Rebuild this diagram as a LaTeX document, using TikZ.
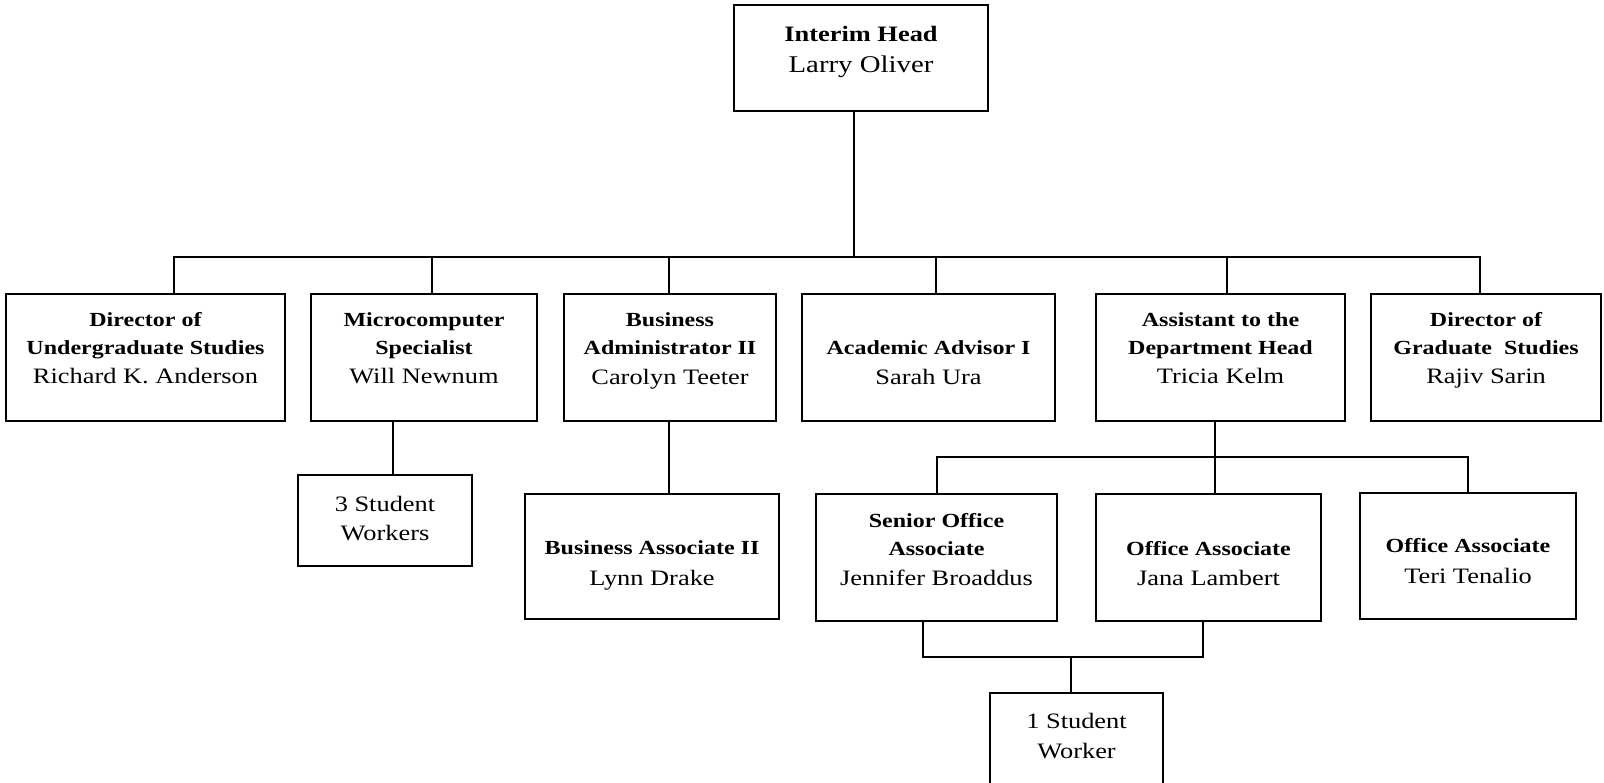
\documentclass[tikz,border=0pt]{standalone}
\usepackage{fontspec}
\setmainfont{Liberation Serif}[FakeStretch=1.2]
\begin{document}
\begin{tikzpicture}[x=1pt,y=-1pt,
  box/.style={draw, line width=2.2pt, inner sep=0pt},
  conn/.style={line width=2pt},
  nm/.style={anchor=base, inner sep=0pt, font=\fontsize{22}{28}\selectfont},
  tt/.style={anchor=base, inner sep=0pt, font=\fontsize{20}{28}\selectfont\bfseries},
  nmbig/.style={anchor=base, inner sep=0pt, font=\fontsize{24}{30}\selectfont},
  ttbig/.style={anchor=base, inner sep=0pt, font=\fontsize{22}{30}\selectfont\bfseries}]
\useasboundingbox (0,0) rectangle (1604,783);
\clip (0,0) rectangle (1604,783);

% boxes
\node[box, minimum width=254pt, minimum height=106pt] (top) at (861,58) {};
\node[box, minimum width=279pt, minimum height=127pt] (b1) at (145.5,357.5) {};
\node[box, minimum width=226pt, minimum height=127pt] (b2) at (424,357.5) {};
\node[box, minimum width=212pt, minimum height=127pt] (b3) at (670,357.5) {};
\node[box, minimum width=253pt, minimum height=127pt] (b4) at (928.5,357.5) {};
\node[box, minimum width=249pt, minimum height=127pt] (b5) at (1220.5,357.5) {};
\node[box, minimum width=230pt, minimum height=127pt] (b6) at (1486,357.5) {};
\node[box, minimum width=174pt, minimum height=91pt] (sw3) at (385,520.5) {};
\node[box, minimum width=254pt, minimum height=125pt] (ba) at (652,556.5) {};
\node[box, minimum width=241pt, minimum height=127pt] (so) at (936.5,557.5) {};
\node[box, minimum width=225pt, minimum height=127pt] (ja) at (1208.5,557.5) {};
\node[box, minimum width=216pt, minimum height=126pt] (te) at (1468,556) {};
\node[box, minimum width=173pt, minimum height=107pt] (sw1) at (1076.5,746.5) {};

% texts
\node[ttbig] (tA) at (861,42) {Interim Head};
\node[nmbig] (tB) at (861,73) {Larry Oliver};

\node[tt] (b1a) at (145.5,327) {Director of};
\node[tt] (b1b) at (145.5,355) {Undergraduate Studies};
\node[nm] (b1c) at (145.5,384) {Richard K. Anderson};

\node[tt] (b2a) at (424,327) {Microcomputer};
\node[tt] (b2b) at (424,355) {Specialist};
\node[nm] (b2c) at (424,384) {Will Newnum};

\node[tt] (b3a) at (670,327) {Business};
\node[tt] (b3b) at (670,355) {Administrator II};
\node[nm] (b3c) at (670,385) {Carolyn Teeter};

\node[tt] (b4a) at (928.5,355) {Academic Advisor I};
\node[nm] (b4b) at (928.5,385) {Sarah Ura};

\node[tt] (b5a) at (1220.5,327) {Assistant to the};
\node[tt] (b5b) at (1220.5,355) {Department Head};
\node[nm] (b5c) at (1220.5,384) {Tricia Kelm};

\node[tt] (b6a) at (1486,327) {Director of};
\node[tt] (b6b) at (1486,355) {Graduate\ \ Studies};
\node[nm] (b6c) at (1486,384) {Rajiv Sarin};

\node[nm] (sw3a) at (385,511) {3 Student};
\node[nm] (sw3b) at (385,540) {Workers};

\node[tt] (baa) at (652,554) {Business Associate II};
\node[nm] (bab) at (652,585) {Lynn Drake};

\node[tt] (soa) at (936.5,527) {Senior Office};
\node[tt] (sob) at (936.5,555) {Associate};
\node[nm] (soc) at (936.5,585) {Jennifer Broaddus};

\node[tt] (jaa) at (1208.5,555) {Office Associate};
\node[nm] (jab) at (1208.5,585) {Jana Lambert};

\node[tt] (tea) at (1468,552) {Office Associate};
\node[nm] (teb) at (1468,583) {Teri Tenalio};

\node[nm] (sw1a) at (1076.5,728) {1 Student};
\node[nm] (sw1b) at (1076.5,758) {Worker};

% connectors
\coordinate (bus) at (854,257);
\coordinate (t0) at ([xshift=-7pt]top.south);
\coordinate (d1) at ([xshift=28.5pt]b1.north);
\coordinate (d2) at ([xshift=8pt]b2.north);
\coordinate (d3) at ([xshift=-1pt]b3.north);
\coordinate (d4) at ([xshift=7.5pt]b4.north);
\coordinate (d5) at ([xshift=6.5pt]b5.north);
\coordinate (d6) at ([xshift=-6pt]b6.north);
\draw[conn] (t0) -- (t0 |- bus);
\draw[conn] (d1) |- (bus) -| (d6);
\foreach \d in {d2,d3,d4,d5} \draw[conn] (\d) -- (\d |- bus);

\coordinate (u2) at ([xshift=-31pt]b2.south);
\draw[conn] (u2) -- (u2 |- sw3.north);
\coordinate (u3) at ([xshift=-1pt]b3.south);
\draw[conn] (u3) -- (u3 |- ba.north);

\coordinate (u5) at ([xshift=-5.5pt]b5.south);
\coordinate (bus2) at (1215,457);
\draw[conn] (u5) -- (u5 |- ja.north);
\draw[conn] (so.north) |- (bus2) -| (te.north);

\coordinate (s1) at ([xshift=-13.5pt]so.south);
\coordinate (s2) at ([xshift=-5.5pt]ja.south);
\coordinate (j) at (1071,657);
\draw[conn] (s1) |- (j) -| (s2);
\draw[conn] (j) -- (j |- sw1.north);
\end{tikzpicture}
\end{document}
